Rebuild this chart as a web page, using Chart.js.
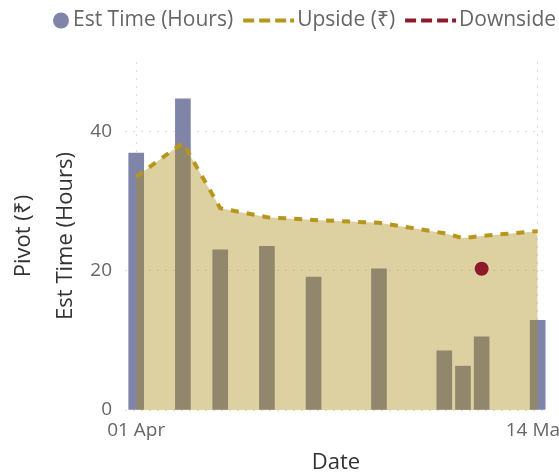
<!DOCTYPE html>
<html>
<head>
<meta charset="utf-8">
<script src="https://cdn.jsdelivr.net/npm/chart.js@4.4.0/dist/chart.umd.min.js"></script>
<style>
  html, body { margin: 0; padding: 0; background: #fff; overflow: hidden; }
  #wrap { width: 600px; height: 474px; }
</style>
</head>
<body>
<div id="wrap"><canvas id="chart"></canvas></div>
<script>
// data
const dates = ["2024-04-01", "2024-04-06", "2024-04-10", "2024-04-15", "2024-04-20",
               "2024-04-27", "2024-05-04", "2024-05-06", "2024-05-08", "2024-05-14"];
const estHours = [36.9, 44.7, 23.0, 23.5, 19.1, 20.3, 8.5, 6.3, 10.5, 12.9];
const upside   = [33.5, 38.4, 29.0, 27.7, 27.3, 26.9, 25.4, 24.7, 25.0, 25.7];
const downside = [null, null, null, null, null, null, null, null, 20.3, null];
const xTickDates  = ["2024-04-01", "2024-05-14"];
const xTickLabels = ["01 Apr", "14 May"];
const yTicks = [0, 20, 40];

const FONT = "'Segoe UI', 'Open Sans', sans-serif";
const barColor = "#7f84a8";
const upColor = "#b8961e";
const downColor = "#8c1a2a";

const start = Date.UTC(2024, 3, 1);
const dayOf = s => {
  const [y, m, d] = s.split("-").map(Number);
  return Math.round((Date.UTC(y, m - 1, d) - start) / 86400000);
};
const points = vals => dates.map((d, i) => ({ x: dayOf(d), y: vals[i] })).filter(p => p.y != null);

const legendItems = [
  { text: "Est Time (Hours)", kind: "circle", color: barColor },
  { text: "Upside (\u20b9)", kind: "dash", color: upColor },
  { text: "Downside (\u20b9)", kind: "dash", color: downColor }
];

// power bi style legend: circle for bars, dashes + dot for lines
const legendPlugin = {
  id: "pbiLegend",
  afterDraw(chart) {
    const ctx = chart.ctx;
    const y = 20.5;
    let x = 53;
    ctx.save();
    ctx.font = "21px " + FONT;
    ctx.textBaseline = "middle";
    legendItems.forEach(item => {
      ctx.fillStyle = item.color;
      if (item.kind === "circle") {
        ctx.beginPath();
        ctx.arc(x + 8, y, 8, 0, Math.PI * 2);
        ctx.fill();
        x += 20;
      } else {
        for (let k = 0; k < 3; k++) ctx.fillRect(x + k * 16, y - 2, 11, 4);
        ctx.fillRect(x + 47, y - 2, 4, 4);
        x += 54;
      }
      ctx.fillStyle = "#666";
      ctx.fillText(item.text, x, y);
      x += ctx.measureText(item.text).width + 10;
    });
    ctx.restore();
  }
};

new Chart(document.getElementById("chart"), {
  type: "line",
  data: {
    datasets: [
      {
        type: "line",
        label: "Downside (\u20b9)",
        data: points(downside),
        showLine: false,
        pointRadius: 7,
        pointBackgroundColor: downColor,
        pointBorderWidth: 0,
        order: 0
      },
      {
        type: "line",
        label: "Upside (\u20b9)",
        data: points(upside),
        borderColor: upColor,
        borderWidth: 4,
        borderDash: [8, 8],
        fill: "origin",
        backgroundColor: "rgba(172,140,20,0.4)",
        pointRadius: 0,
        tension: 0,
        order: 1
      },
      {
        type: "bar",
        label: "Est Time (Hours)",
        data: points(estHours),
        backgroundColor: barColor,
        barThickness: 15,
        order: 2
      }
    ]
  },
  options: {
    responsive: true,
    maintainAspectRatio: false,
    animation: false,
    layout: { padding: { top: 62, right: 53, left: 0, bottom: 0 } },
    plugins: { legend: { display: false }, tooltip: { enabled: false } },
    scales: {
      x: {
        type: "linear",
        min: -1.2,
        max: 44,
        offset: false,
        afterBuildTicks: a => { a.ticks = xTickDates.map(d => ({ value: dayOf(d) })); },
        afterFit: a => { a.height = 64; },
        ticks: {
          callback: v => xTickLabels[xTickDates.findIndex(d => dayOf(d) === v)],
          color: "#666",
          font: { family: FONT, size: 19 },
          padding: 9,
          maxRotation: 0,
          autoSkip: false
        },
        grid: { color: "#dcdcdc", drawTicks: false, offset: false },
        border: { display: false, dash: [2, 6] },
        title: { display: true, text: "Date", color: "#333", font: { family: FONT, size: 22 }, padding: { top: 0, bottom: -2 } }
      },
      y: {
        position: "left",
        weight: 0,
        min: 0,
        max: 50,
        afterBuildTicks: a => { a.ticks = yTicks.map(v => ({ value: v })); },
        afterFit: a => { a.width = 81; },
        ticks: { color: "#666", font: { family: FONT, size: 19 }, padding: 13 },
        grid: { color: "#dcdcdc", drawTicks: false },
        border: { display: false, dash: [2, 6] },
        title: { display: true, text: "Est Time (Hours)", color: "#333", font: { family: FONT, size: 22 }, padding: { top: 9, bottom: 0 } }
      },
      y2: {
        position: "left",
        weight: 1,
        min: 0,
        max: 50,
        afterFit: a => { a.width = 44; },
        ticks: { display: false },
        grid: { display: false, drawTicks: false },
        border: { display: false },
        title: { display: true, text: "Pivot (\u20b9)", color: "#333", font: { family: FONT, size: 22 }, padding: { top: 11, bottom: 0 } }
      }
    }
  },
  plugins: [legendPlugin]
});
</script>
</body>
</html>
